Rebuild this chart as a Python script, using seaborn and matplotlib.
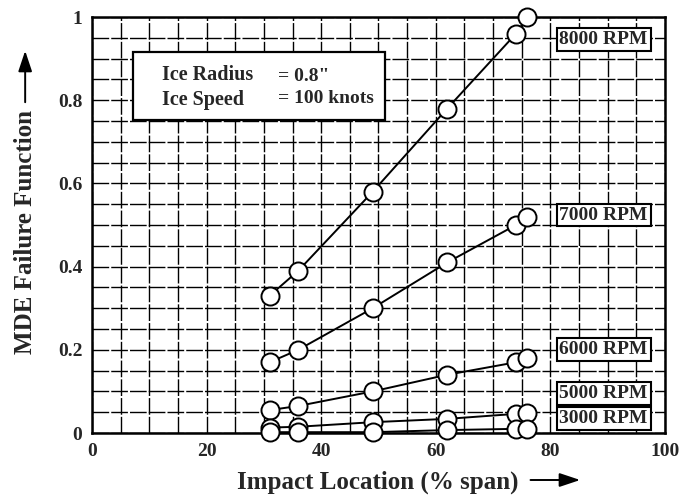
import numpy as np
import pandas as pd
import matplotlib
matplotlib.use('Agg')
import matplotlib.pyplot as plt
from matplotlib.patches import Rectangle, FancyArrowPatch
import seaborn as sns

# Values
span = [31, 36, 49, 62, 74, 76]
rpm_8000 = [0.33, 0.39, 0.58, 0.78, 0.96, 1.0]
rpm_7000 = [0.17, 0.20, 0.30, 0.41, 0.50, 0.52]
rpm_6000 = [0.055, 0.065, 0.10, 0.14, 0.17, 0.18]
rpm_5000 = [0.013, 0.015, 0.026, 0.034, 0.046, 0.048]
rpm_3000 = [0.002, 0.002, 0.002, 0.007, 0.010, 0.010]

series = {'8000 RPM': rpm_8000, '7000 RPM': rpm_7000, '6000 RPM': rpm_6000,
          '5000 RPM': rpm_5000, '3000 RPM': rpm_3000}
label_y = {'8000 RPM': 0.945, '7000 RPM': 0.524, '6000 RPM': 0.20,
           '5000 RPM': 0.095, '3000 RPM': 0.035}

x_ticks = [0, 20, 40, 60, 80, 100]
y_ticks = [0, 0.2, 0.4, 0.6, 0.8, 1.0]
y_tick_labels = ['0', '0.2', '0.4', '0.6', '0.8', '1']

sns.set_style('white')
plt.rcParams['font.family'] = ['Liberation Serif', 'DejaVu Serif']

fig = plt.figure(figsize=(6.99, 5.0), dpi=100)
ax = fig.add_axes([0.1316, 0.134, 0.8197, 0.832])

ax.set_xlim(0, 100)
ax.set_ylim(0, 1)

# fine grid every 5 % span and 0.05
ax.set_xticks(np.arange(0, 101, 5), minor=True)
ax.set_yticks(np.arange(0, 1.001, 0.05), minor=True)
ax.grid(True, which='both', color='black', linewidth=1.0, linestyle=(0, (12, 1.5)))
ax.set_axisbelow(True)

for name, vals in series.items():
    df = pd.DataFrame({'span': span, 'mde': vals})
    sns.lineplot(data=df, x='span', y='mde', ax=ax, color='black', linewidth=1.4,
                 marker='o', markersize=13, markerfacecolor='white',
                 markeredgecolor='black', markeredgewidth=1.4, clip_on=False, zorder=5)
    ax.text(89.3, label_y[name], name, ha='center', va='center', fontsize=14,
            fontweight='bold', zorder=6,
            bbox=dict(boxstyle='square,pad=0.15', facecolor='white',
                      edgecolor='black', linewidth=1.5))

# condition box
ax.add_patch(Rectangle((0.0716, 0.752), 0.44, 0.164, transform=ax.transAxes,
                       facecolor='white', edgecolor='black', linewidth=1.6, zorder=6))
ax.text(0.122, 0.831, 'Ice Radius\nIce Speed', transform=ax.transAxes, ha='left',
        va='center', fontsize=14.5, fontweight='bold', linespacing=1.3, zorder=7)
ax.text(0.324, 0.831, '= 0.8"\n= 100 knots', transform=ax.transAxes, ha='left',
        va='center', fontsize=14, fontweight='bold', linespacing=1.35, zorder=7)

ax.set_xticks(x_ticks)
ax.set_yticks(y_ticks)
ax.set_yticklabels(y_tick_labels)
ax.tick_params(axis='both', which='both', length=0, labelsize=14, pad=7)
for lbl in ax.get_xticklabels() + ax.get_yticklabels():
    lbl.set_fontweight('bold')

for sp in ax.spines.values():
    sp.set_color('black')
    sp.set_linewidth(1.8)

ax.set_xlabel('')
ax.set_ylabel('')

# axis titles with arrows, as in the original
fig.text(0.541, 0.036, 'Impact Location (% span)', ha='center', va='center',
         fontsize=18, fontweight='bold')
fig.text(0.036, 0.536, 'MDE Failure Function', ha='center', va='center',
         rotation=90, fontsize=18, fontweight='bold')
fig.patches.append(FancyArrowPatch(
    (0.755, 0.040), (0.834, 0.040), transform=fig.transFigure,
    arrowstyle='-|>,head_length=0.9,head_width=0.3', color='black', linewidth=1.4,
    mutation_scale=14))
fig.patches.append(FancyArrowPatch(
    (0.036, 0.79), (0.036, 0.904), transform=fig.transFigure,
    arrowstyle='-|>,head_length=0.9,head_width=0.3', color='black', linewidth=1.4,
    mutation_scale=14))

fig.savefig('out.png', dpi=100)
plt.close(fig)
